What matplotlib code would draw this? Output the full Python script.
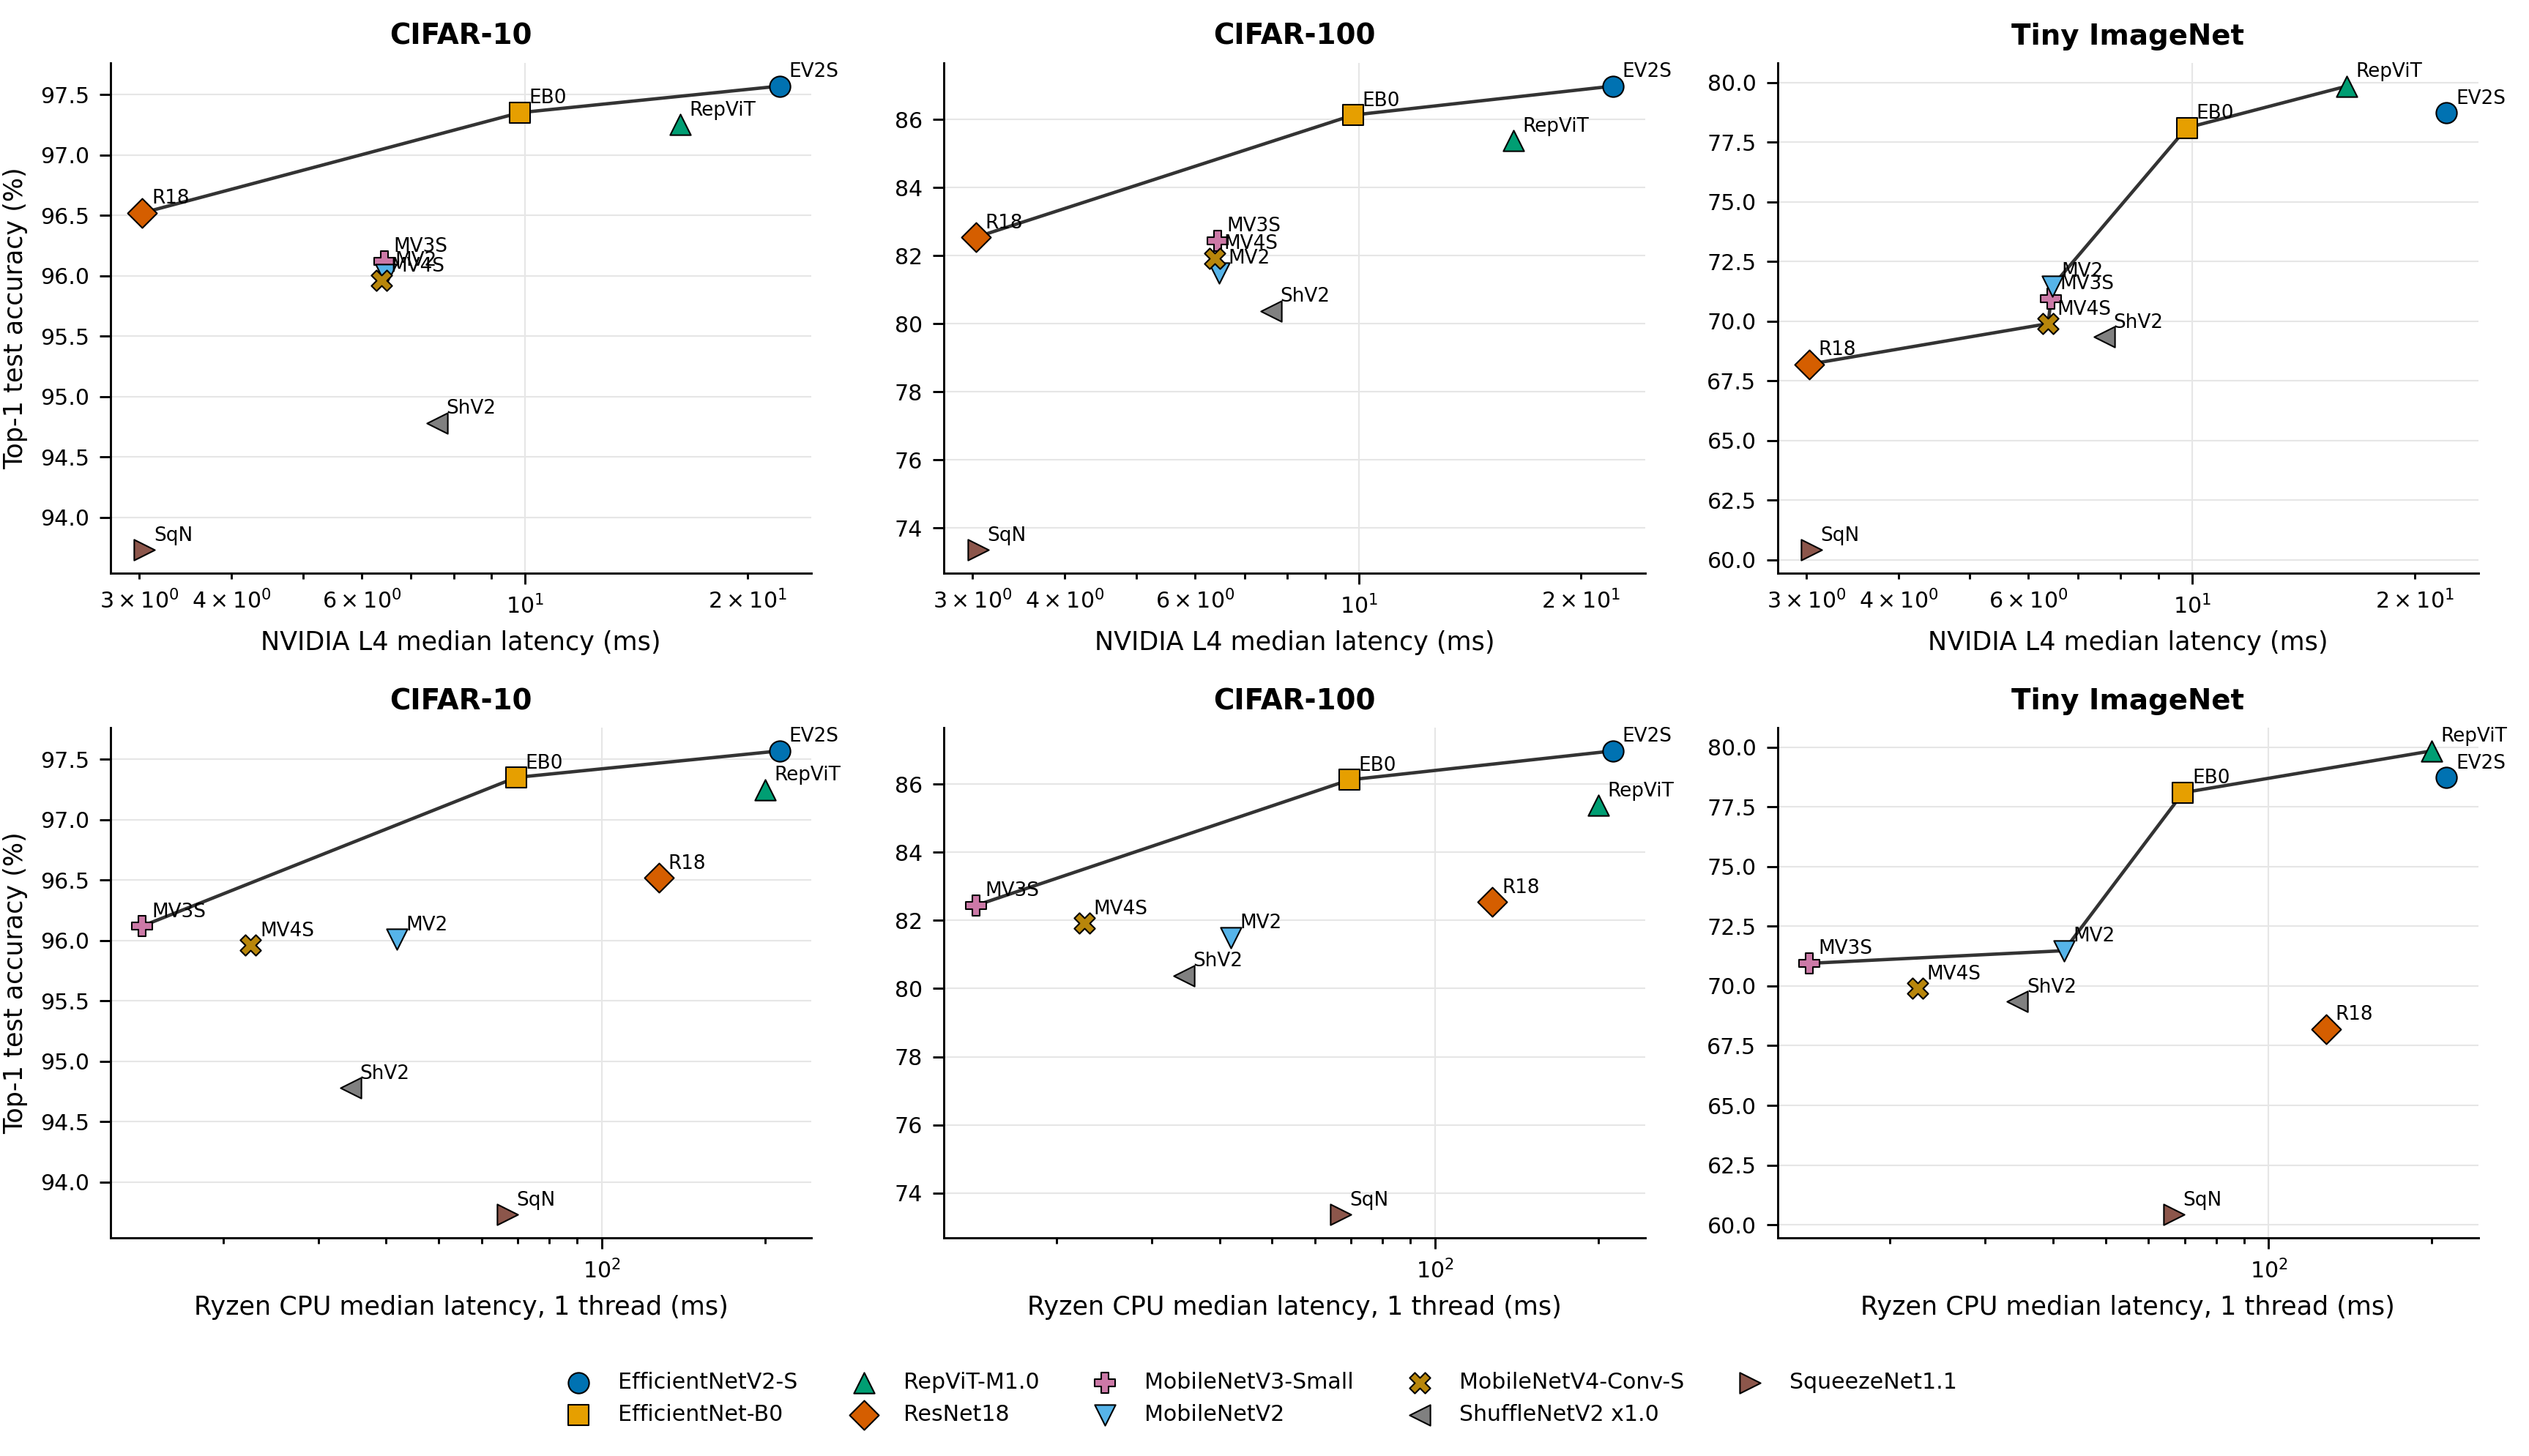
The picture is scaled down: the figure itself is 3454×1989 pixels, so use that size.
import numpy as np
import matplotlib
matplotlib.use("Agg")
import matplotlib.pyplot as plt

# models, short labels, colours, markers
models = ['EfficientNetV2-S', 'EfficientNet-B0', 'RepViT-M1.0', 'ResNet18',
          'MobileNetV3-Small', 'MobileNetV2', 'MobileNetV4-Conv-S',
          'ShuffleNetV2 x1.0', 'SqueezeNet1.1']
short = ['EV2S', 'EB0', 'RepViT', 'R18', 'MV3S', 'MV2', 'MV4S', 'ShV2', 'SqN']
colors = ['#0072B2', '#E69F00', '#009E73', '#D55E00', '#CC79A7',
          '#56B4E9', '#B8860B', '#808080', '#8C564B']
markers = ['o', 's', '^', 'D', 'P', 'v', 'X', '<', '>']

# latencies (ms)
gpu_ms = [22.1, 9.83, 16.2, 3.03, 6.44, 6.47, 6.38, 7.60, 3.05]
cpu_ms = [213, 69.5, 200, 127.6, 14.2, 41.9, 22.5, 34.4, 66.9]

# top-1 accuracy (%)
acc_c10 = [97.57, 97.35, 97.25, 96.52, 96.12, 96.01, 95.96, 94.78, 93.73]
acc_c100 = [86.98, 86.13, 85.38, 82.54, 82.44, 81.50, 81.92, 80.38, 73.36]
acc_tiny = [78.73, 78.10, 79.85, 68.20, 70.95, 71.48, 69.90, 69.35, 60.42]

datasets = ['CIFAR-10', 'CIFAR-100', 'Tiny ImageNet']
accs = [acc_c10, acc_c100, acc_tiny]
lat_rows = [gpu_ms, cpu_ms]
xlabels = ['NVIDIA L4 median latency (ms)', 'Ryzen CPU median latency, 1 thread (ms)']


def pareto(lat, acc):
    order = np.argsort(lat)
    xs, ys = [], []
    best = -np.inf
    for i in order:
        if acc[i] > best:
            best = acc[i]
            xs.append(lat[i])
            ys.append(acc[i])
    return xs, ys


fig, axes = plt.subplots(2, 3, figsize=(3454 / 300, 1989 / 300), dpi=300)
fig.subplots_adjust(left=0.0437, right=0.980, top=0.9568, bottom=0.1498,
                    wspace=0.189, hspace=0.303)

for r in range(2):
    lat = lat_rows[r]
    for c in range(3):
        ax = axes[r, c]
        acc = accs[c]
        fx, fy = pareto(lat, acc)
        ax.plot(fx, fy, color='#333333', lw=1.1, zorder=2)
        for i in range(len(models)):
            ax.scatter(lat[i], acc[i], s=46, marker=markers[i], color=colors[i],
                       edgecolor='black', linewidth=0.5, zorder=3, label=models[i])
            ax.annotate(short[i], (lat[i], acc[i]), xytext=(3, 3),
                        textcoords='offset points', ha='left', va='baseline',
                        fontsize=6.3, zorder=4)
        ax.set_xscale('log')
        ax.set_title(datasets[c], fontsize=9.3, fontweight='bold')
        ax.set_xlabel(xlabels[r], fontsize=8.4)
        if c == 0:
            ax.set_ylabel('Top-1 test accuracy (%)', fontsize=8.4)
        ax.tick_params(axis='both', which='both', labelsize=7.2, width=0.7)
        ax.grid(True, which='major', color='#e6e6e6', lw=0.5)
        ax.set_axisbelow(True)
        for s in ['top', 'right']:
            ax.spines[s].set_visible(False)
        for s in ['left', 'bottom']:
            ax.spines[s].set_linewidth(0.7)

handles, labels = axes[0, 0].get_legend_handles_labels()
fig.legend(handles, labels, loc='center', bbox_to_anchor=(0.497, 0.0397),
           ncol=5, frameon=False, fontsize=7.2)

fig.savefig('out.png', dpi=300)
